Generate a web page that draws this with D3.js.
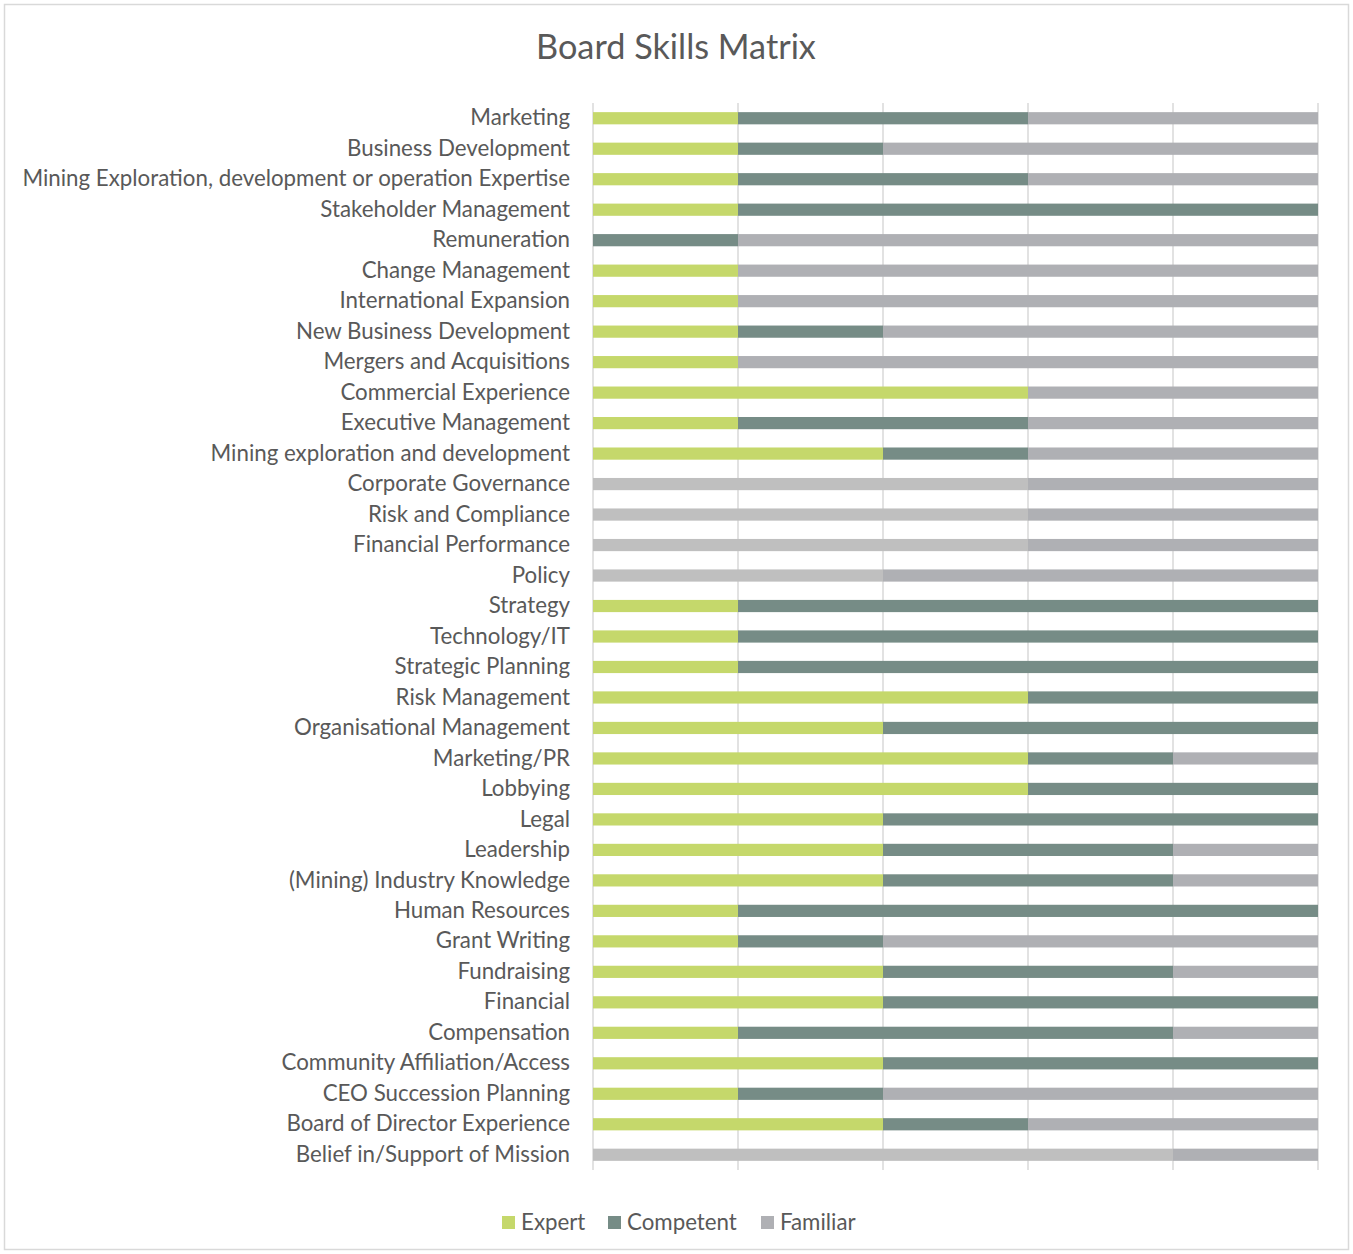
<!DOCTYPE html>
<html><head><meta charset="utf-8">
<script src="https://cdn.jsdelivr.net/npm/d3@7"></script>
<style>body{margin:0;background:#fff;}svg{display:block;}</style>
</head><body>
<svg id="c" width="1353" height="1254"></svg>
<script>
const categories = ["Marketing","Business Development","Mining Exploration, development or operation Expertise","Stakeholder Management","Remuneration","Change Management","International Expansion","New Business Development","Mergers and Acquisitions","Commercial Experience","Executive Management","Mining exploration and development","Corporate Governance","Risk and Compliance","Financial Performance","Policy","Strategy","Technology/IT","Strategic Planning","Risk Management","Organisational Management","Marketing/PR","Lobbying","Legal","Leadership","(Mining) Industry Knowledge","Human Resources","Grant Writing","Fundraising","Financial","Compensation","Community Affiliation/Access","CEO Succession Planning","Board of Director Experience","Belief in/Support of Mission"];
const unrated   = [0,0,0,0,0,0,0,0,0,0,0,0,3,3,3,2,0,0,0,0,0,0,0,0,0,0,0,0,0,0,0,0,0,0,4];
const expert    = [1,1,1,1,0,1,1,1,1,3,1,2,0,0,0,0,1,1,1,3,2,3,3,2,2,2,1,1,2,2,1,2,1,2,0];
const competent = [2,1,2,4,1,0,0,1,0,0,2,1,0,0,0,0,4,4,4,2,3,1,2,3,2,2,4,1,2,3,3,3,1,1,0];
const familiar  = [2,3,2,0,4,4,4,3,4,2,2,2,2,2,2,3,0,0,0,0,0,1,0,0,1,1,0,3,1,0,1,0,3,2,1];
const seriesNames = ["Unrated","Expert","Competent","Familiar"];
const legendNames = ["Expert","Competent","Familiar"];
const xTicks = [0,1,2,3,4,5];

const colors = {Unrated:"#bfbfbf",Expert:"#c5d86b",Competent:"#768c86",Familiar:"#afb0b4"};
const font = "Lato, 'Open Sans', sans-serif";
const textColor = "#595959";

const svg = d3.select("#c");
const W = 1353, H = 1254;
svg.append("rect").attr("x",4.5).attr("y",4.5).attr("width",W-9).attr("height",H-9)
  .attr("fill","#fff").attr("stroke","#d9d9d9").attr("stroke-width",1.5);

const m = {left:593, right:1318, top:103, bottom:1170};
const x = d3.scaleLinear().domain([0,5]).range([m.left,m.right]);
const y = d3.scaleBand().domain(categories).range([m.top,m.bottom]).paddingInner(0.6).paddingOuter(0.3);

const rows = categories.map((c,i)=>({cat:c,Unrated:unrated[i],Expert:expert[i],Competent:competent[i],Familiar:familiar[i]}));
const stack = d3.stack().keys(seriesNames)(rows);

// gridlines
svg.append("g").selectAll("line").data(xTicks).join("line")
  .attr("x1",d=>x(d)).attr("x2",d=>x(d)).attr("y1",m.top).attr("y2",m.bottom)
  .attr("stroke","#d9d9d9").attr("stroke-width",1.5);

// bars
svg.append("g").selectAll("g").data(stack).join("g").attr("fill",s=>colors[s.key])
  .selectAll("rect").data(s=>s.filter(d=>d[1]>d[0])).join("rect")
  .attr("x",d=>x(d[0])).attr("width",d=>x(d[1])-x(d[0]))
  .attr("y",d=>y(d.data.cat)).attr("height",y.bandwidth());

// fit helper
function fit(sel, target){
  const w = sel.node().getComputedTextLength();
  const fs = parseFloat(sel.attr("font-size"));
  return fs*target/w;
}

// labels
const yAxis = d3.axisLeft(y).tickSize(0).tickPadding(23);
const ag = svg.append("g").attr("transform",`translate(${m.left},0)`).call(yAxis);
ag.select(".domain").remove();
ag.selectAll("text").attr("fill",textColor).attr("font-family",font).attr("font-size",20);
let longest = ag.selectAll("text").filter(d=>d===categories[2]);
const labelFs = fit(longest, 548);
ag.selectAll("text").attr("font-size",labelFs).attr("font-family",font);

// title
const title = svg.append("text").attr("x",676).attr("y",59).attr("text-anchor","middle")
  .attr("font-family",font).attr("font-size",30).attr("fill",textColor).text("Board Skills Matrix");
title.attr("font-size", fit(title, 280));

// legend
const legendX = [502,608,761];
const lg = svg.append("g");
legendNames.forEach((n,i)=>{
  lg.append("rect").attr("x",legendX[i]).attr("y",1216).attr("width",13).attr("height",13).attr("fill",colors[n]);
  lg.append("text").attr("x",legendX[i]+19).attr("y",1222).attr("dy","0.35em")
    .attr("font-family",font).attr("font-size",labelFs).attr("fill",textColor).text(n);
});
</script>
</body></html>
